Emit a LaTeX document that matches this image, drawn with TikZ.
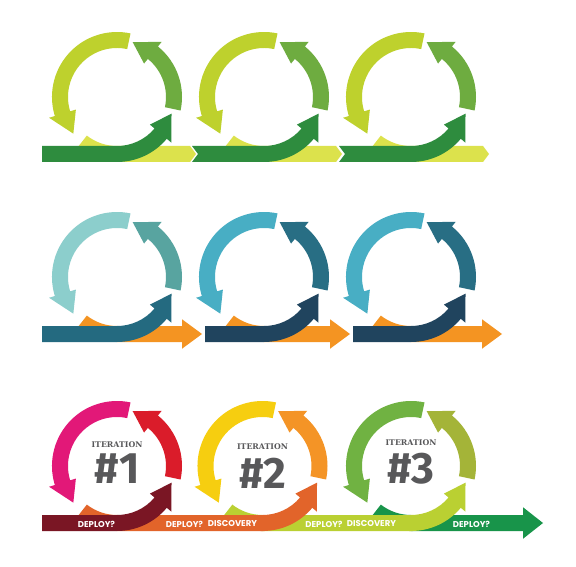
\documentclass[tikz,border=0pt]{standalone}
\usepackage{fontspec}
\newfontfamily\popfont{Poppins}
\newfontfamily\numfont{Fira Sans}
\newfontfamily\iterfont{DejaVu Serif}
\definecolor{ra}{RGB}{190,209,45}
\definecolor{rb}{RGB}{110,172,64}
\definecolor{rc}{RGB}{46,140,62}
\definecolor{rd}{RGB}{220,226,76}
\definecolor{ta}{RGB}{140,206,204}
\definecolor{tb}{RGB}{88,164,160}
\definecolor{tc}{RGB}{36,106,128}
\definecolor{ua}{RGB}{72,174,196}
\definecolor{ub}{RGB}{40,110,132}
\definecolor{uc}{RGB}{32,68,94}
\definecolor{orng}{RGB}{244,148,34}
\definecolor{mag}{RGB}{226,24,120}
\definecolor{red1}{RGB}{218,28,42}
\definecolor{maroon}{RGB}{122,22,36}
\definecolor{dorng}{RGB}{226,100,42}
\definecolor{yel}{RGB}{246,206,16}
\definecolor{orng2}{RGB}{244,148,38}
\definecolor{lime}{RGB}{186,208,50}
\definecolor{grn}{RGB}{112,178,66}
\definecolor{olive}{RGB}{164,180,56}
\definecolor{dgrn}{RGB}{24,148,74}
\definecolor{txtgray}{RGB}{88,88,90}
\def\Rin{49}\def\Rout{65}\def\Rmid{57}\def\Wing{6}
\newcommand\toparcs[4]{%
\begin{scope}[shift={(#1,#2)}]
\fill[#3] (78:\Rin) arc[start angle=78,end angle=197,radius=\Rin pt] -- (197:\Rin-\Wing) -- (220:\Rmid) -- (197:\Rout+\Wing) -- (197:\Rout) arc[start angle=197,end angle=78,radius=\Rout pt] -- cycle;
\fill[#4] (-12:\Rin) arc[start angle=-12,end angle=51,radius=\Rin pt] -- (51:\Rin-\Wing) -- (74:\Rmid) -- (51:\Rout+\Wing) -- (51:\Rout) arc[start angle=51,end angle=-12,radius=\Rout pt] -- cycle;
\end{scope}}
\newcommand\darkpiece[5]{%
\begin{scope}[shift={(#1,#2)}]
\fill[#5] (#3,-\Rin) -- (0,-\Rin) arc[start angle=270,end angle=320,radius=\Rin pt] -- (320:\Rin-\Wing) -- (343:\Rmid) -- (320:\Rout+\Wing) -- (320:\Rout) arc[start angle=320,end angle=270,radius=\Rout pt] -- (#3,-\Rout) -- (#3+#4,-\Rmid) -- cycle;
\end{scope}}
\newcommand\behindchev[4]{%
\begin{scope}[shift={(#1,#2)}]
\fill[#4] (232:\Rin) arc[start angle=232,end angle=270,radius=\Rin pt] -- (#3-6,-\Rin) -- (#3,-\Rmid) -- (#3-6,-\Rout) -- (0,-\Rout) arc[start angle=270,end angle=232,radius=\Rout pt] -- cycle;
\end{scope}}
\newcommand\behindarrow[6]{%
\begin{scope}[shift={(#1,#2)}]
\fill[#6] (232:\Rin) arc[start angle=232,end angle=270,radius=\Rin pt] -- (#3,-\Rin) -- (#3,-\Rin+#5) -- (#4,-\Rmid) -- (#3,-\Rout-#5) -- (#3,-\Rout) -- (0,-\Rout) arc[start angle=270,end angle=232,radius=\Rout pt] -- cycle;
\end{scope}}
\newcommand\behindsq[4]{%
\begin{scope}[shift={(#1,#2)}]
\fill[#4] (232:\Rin) arc[start angle=232,end angle=270,radius=\Rin pt] -- (#3,-\Rin) -- (#3,-\Rout) -- (0,-\Rout) arc[start angle=270,end angle=232,radius=\Rout pt] -- cycle;
\end{scope}}
\tikzset{
  lbl/.style={text=white, inner sep=0pt, font=\popfont\bfseries\fontsize{8.5}{9}\selectfont},
  itl/.style={text=txtgray, inner sep=0pt, font=\iterfont\bfseries\fontsize{7.8}{9}\selectfont},
  num/.style={text=txtgray, inner sep=0pt, font=\numfont\bfseries\fontsize{44}{44}\selectfont}
}
\begin{document}
\begin{tikzpicture}[x=1pt,y=1pt]
\useasboundingbox (0,0) rectangle (576,566);
\fill[white] (0,0) rectangle (576,566);
% ---------- Row 1 ----------
\behindchev{117}{469}{79}{rd}
\behindchev{264}{469}{78}{rd}
\behindchev{411}{469}{78}{rd}
\darkpiece{117}{469}{-75}{0}{rc}
\darkpiece{264}{469}{-72}{6}{rc}
\darkpiece{411}{469}{-72}{6}{rc}
\toparcs{117}{469}{ra}{rb}
\toparcs{264}{469}{ra}{rb}
\toparcs{411}{469}{ra}{rb}
% ---------- Row 2 ----------
\behindarrow{117}{289}{65}{85}{6.75}{orng}
\behindarrow{264}{289}{66}{86}{6.75}{orng}
\behindarrow{411}{289}{71}{91}{6.75}{orng}
\darkpiece{117}{289}{-75}{0}{tc}
\darkpiece{264}{289}{-59}{0}{uc}
\darkpiece{411}{289}{-58}{0}{uc}
\toparcs{117}{289}{ta}{tb}
\toparcs{264}{289}{ua}{ub}
\toparcs{411}{289}{ua}{ub}
% ---------- Row 3 ----------
\behindarrow{411}{100}{112}{132}{7.75}{dgrn}
\behindsq{262.5}{100}{150.5}{lime}
\darkpiece{411}{100}{-2}{0}{lime}
\behindsq{117}{100}{147.5}{dorng}
\darkpiece{262.5}{100}{-2}{0}{dorng}
\darkpiece{117}{100}{-75}{0}{maroon}
\toparcs{117}{100}{mag}{red1}
\toparcs{262.5}{100}{yel}{orng2}
\toparcs{411}{100}{grn}{olive}
\node[itl] (it1) at (117,121) {ITERATION};
\node[num] (n1) at (117,97) {\#1};
\node[itl] (it2) at (262.5,119) {ITERATION};
\node[num] (n2) at (263,93) {\#2};
\node[itl] (it3) at (411,123) {ITERATION};
\node[num] (n3) at (411,97) {\#3};
\node[lbl] (l1) at (96.5,42) {DEPLOY?};
\node[lbl] (l2) at (184.5,42) {DEPLOY?};
\node[lbl] (l3) at (232.5,42) {DISCOVERY};
\node[lbl] (l4) at (324,42) {DEPLOY?};
\node[lbl] (l5) at (371.5,42) {DISCOVERY};
\node[lbl] (l6) at (471.5,42) {DEPLOY?};
\end{tikzpicture}
\end{document}
